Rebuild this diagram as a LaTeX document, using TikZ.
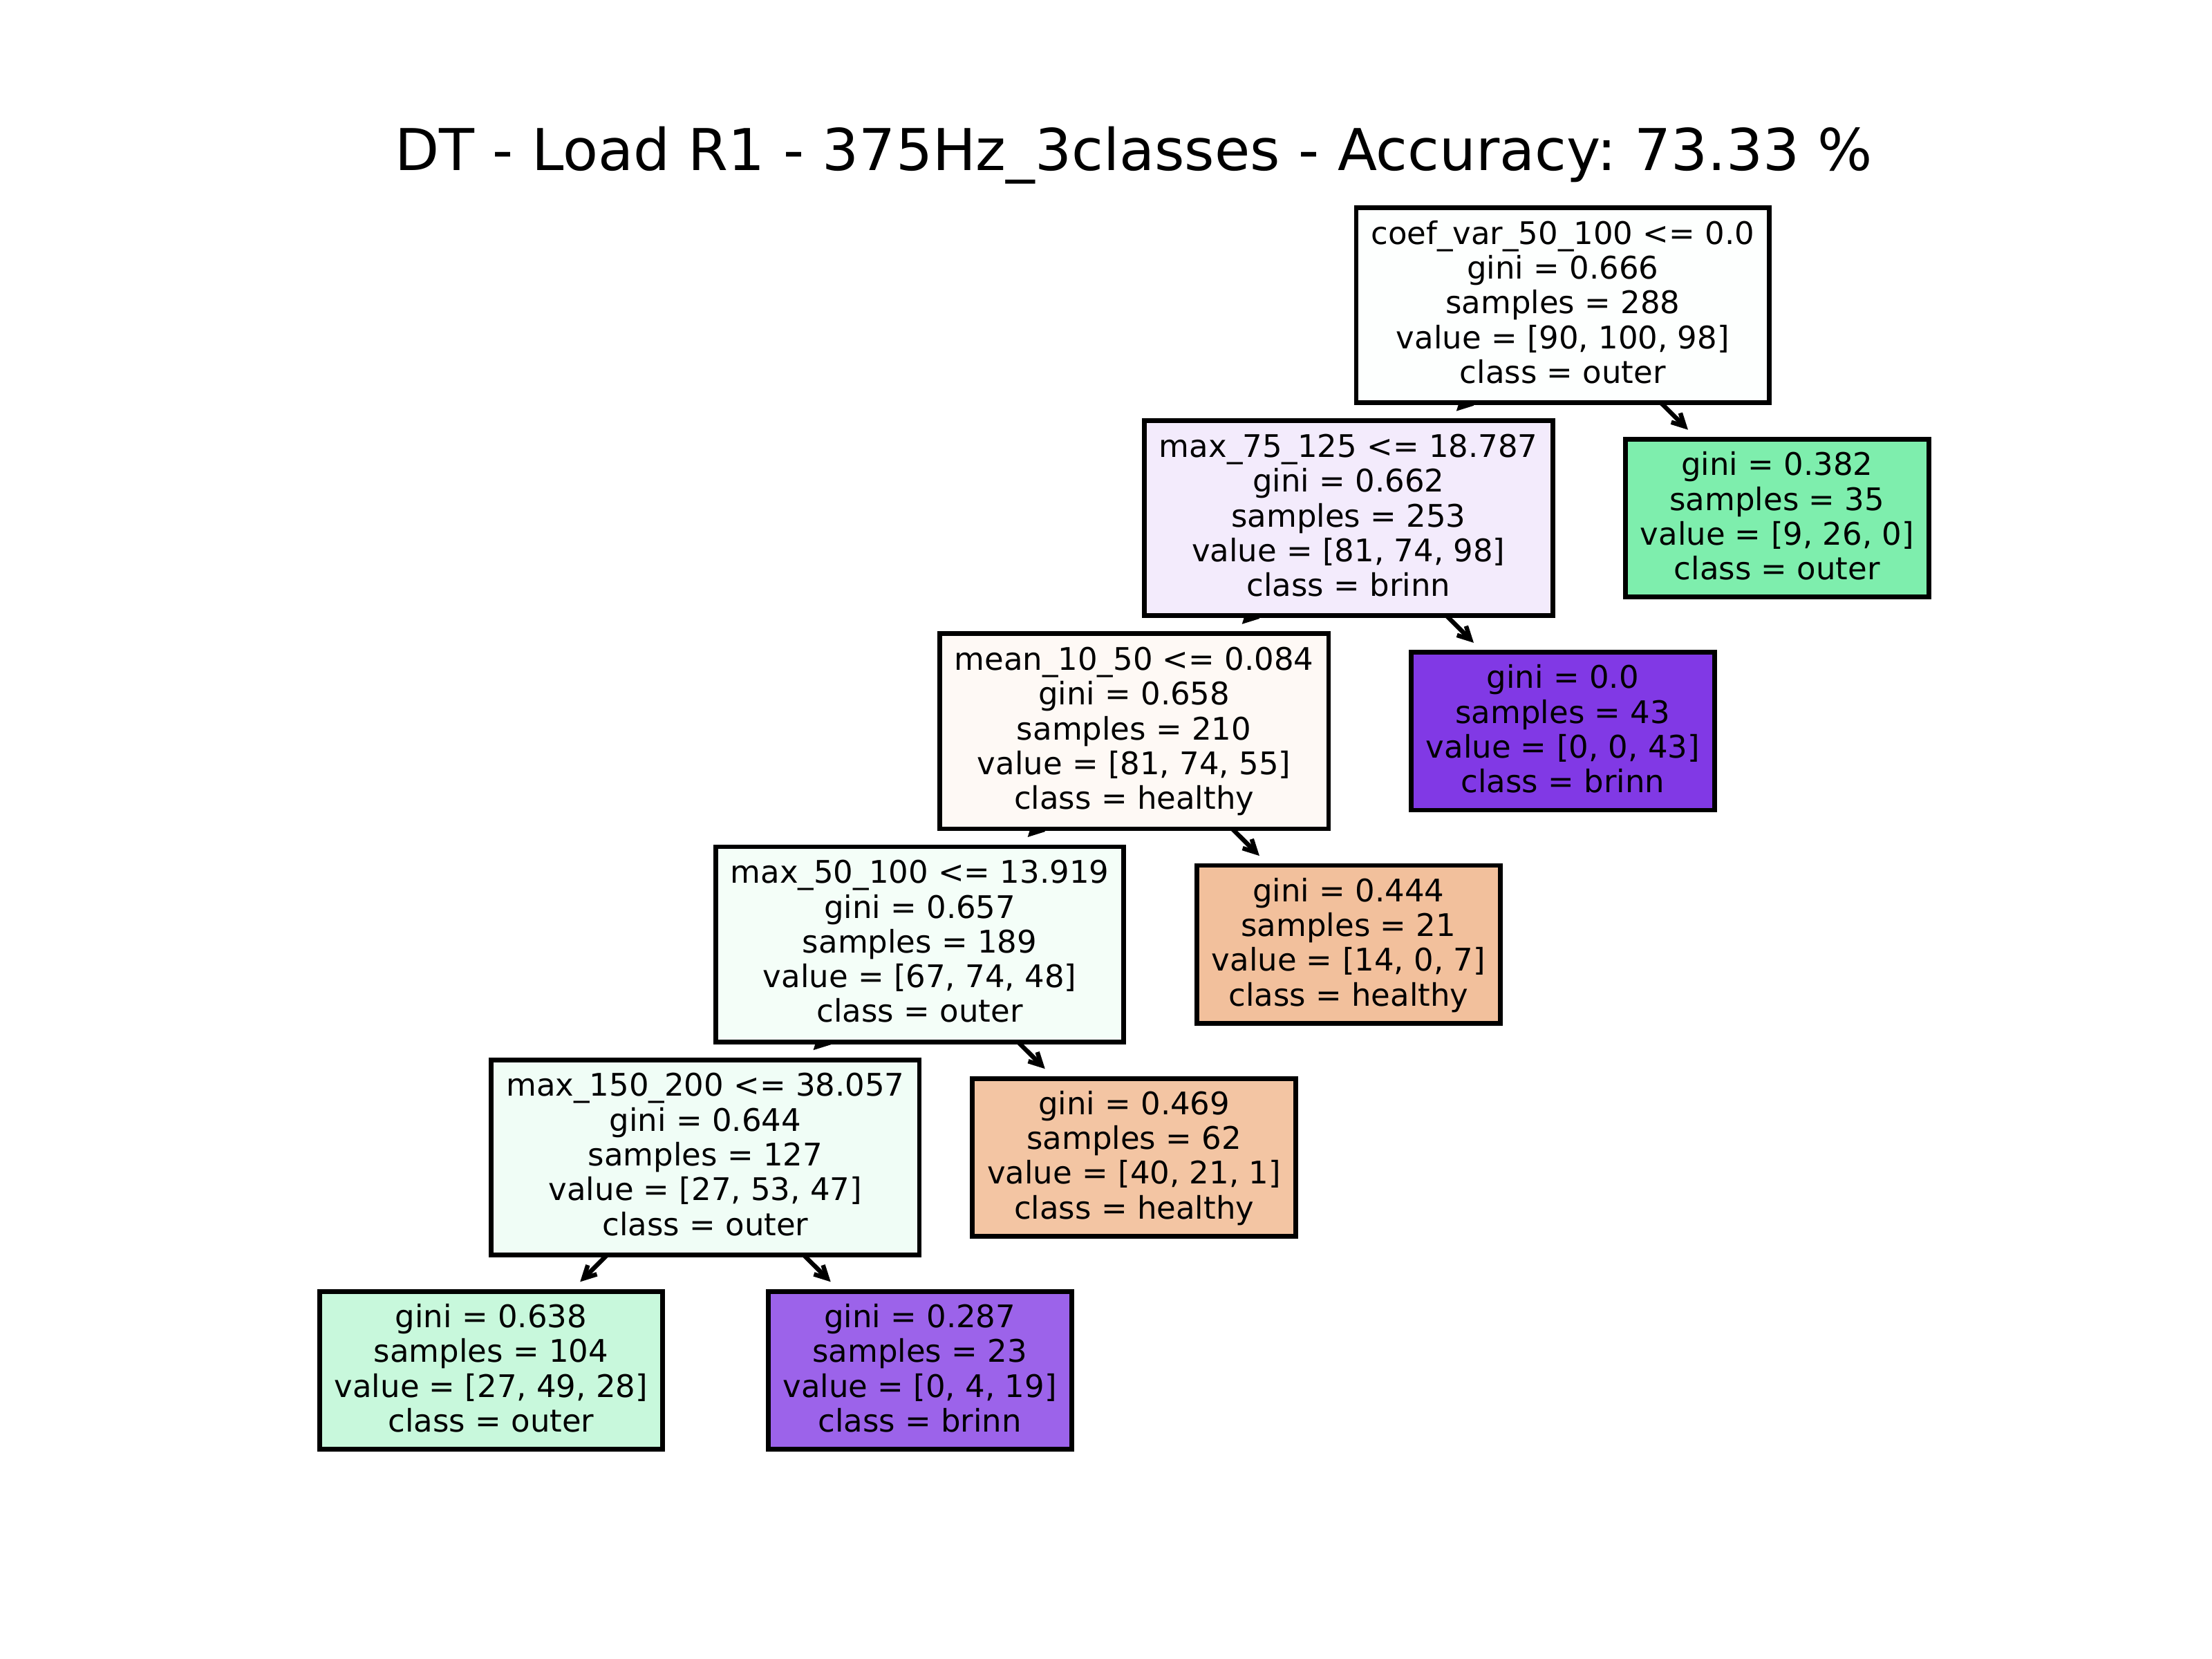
\documentclass[tikz,border=0pt]{standalone}
\usepackage{fontspec}
\setmainfont{DejaVu Sans}
\frenchspacing
\usetikzlibrary{arrows.meta,backgrounds}
\newcommand\nodefont{\fontsize{6.27pt}{7.01pt}\selectfont}
\newcommand\titlefont{\fontsize{11.62pt}{14pt}\selectfont}
\newcommand\tA{\rule{0pt}{0.175cm}}
\newcommand\tB{\rule[-0.055cm]{0pt}{0.055cm}}
\newcommand\lA{\rule{0pt}{0.18cm}}
\newcommand\lB{\rule[-0.048cm]{0pt}{0.048cm}}
\definecolor{cRoot}{RGB}{253,255,254}
\definecolor{cA}{RGB}{243,235,252}
\definecolor{cB}{RGB}{126,238,173}
\definecolor{cC}{RGB}{254,249,245}
\definecolor{cD}{RGB}{129,57,229}
\definecolor{cE}{RGB}{244,254,248}
\definecolor{cF}{RGB}{242,192,156}
\definecolor{cG}{RGB}{240,253,246}
\definecolor{cH}{RGB}{243,197,163}
\definecolor{cI}{RGB}{200,248,220}
\definecolor{cJ}{RGB}{156,99,234}
\tikzset{
  tbox/.style={draw=black, line width=0.95pt, rectangle, inner xsep=2.99pt, inner ysep=0pt, align=center, font=\nodefont},
  split/.style={tbox, minimum height=1.382cm},
  leaf/.style={tbox, minimum height=1.117cm},
  edge/.style={line width=0.9pt, -{Straight Barb[length=2.5pt,width=2.6pt]}, shorten >=2.1pt},
}
\begin{document}
\begin{tikzpicture}[x=0.01cm,y=-0.01cm]
\begin{pgfonlayer}{background}
\fill[white] (0,0) rectangle (1568,1176);
\end{pgfonlayer}
\useasboundingbox (0,0) rectangle (1568,1176);

\node[font=\titlefont, anchor=base, inner sep=0pt] (title) at (803.6,120.7) {DT - Load R1 - 375Hz\_3classes - Accuracy: 73.33 \%};

\node[split, fill=cRoot] (root) at (1107.8,216.4) {\tA coef\_var\_50\_100 <= 0.0\\gini = 0.666\\samples = 288\\value = [90, 100, 98]\\class = outer\tB};
\node[split, fill=cA] (n1) at (955.9,367.4) {\tA max\_75\_125 <= 18.787\\gini = 0.662\\samples = 253\\value = [81, 74, 98]\\class = brinn\tB};
\node[leaf, fill=cB] (l1) at (1259.7,367.4) {\lA gini = 0.382\\samples = 35\\value = [9, 26, 0]\\class = outer\lB};
\node[split, fill=cC] (n2) at (803.9,518.4) {\tA mean\_10\_50 <= 0.084\\gini = 0.658\\samples = 210\\value = [81, 74, 55]\\class = healthy\tB};
\node[leaf, fill=cD] (l2) at (1107.8,518.4) {\lA gini = 0.0\\samples = 43\\value = [0, 0, 43]\\class = brinn\lB};
\node[split, fill=cE] (n3) at (652.0,669.4) {\tA max\_50\_100 <= 13.919\\gini = 0.657\\samples = 189\\value = [67, 74, 48]\\class = outer\tB};
\node[leaf, fill=cF] (l3) at (955.9,669.4) {\lA gini = 0.444\\samples = 21\\value = [14, 0, 7]\\class = healthy\lB};
\node[split, fill=cG] (n4) at (500.0,820.4) {\tA max\_150\_200 <= 38.057\\gini = 0.644\\samples = 127\\value = [27, 53, 47]\\class = outer\tB};
\node[leaf, fill=cH] (l4) at (803.9,820.4) {\lA gini = 0.469\\samples = 62\\value = [40, 21, 1]\\class = healthy\lB};
\node[leaf, fill=cI] (l5) at (348.1,971.4) {\lA gini = 0.638\\samples = 104\\value = [27, 49, 28]\\class = outer\lB};
\node[leaf, fill=cJ] (l6) at (652.0,971.4) {\lA gini = 0.287\\samples = 23\\value = [0, 4, 19]\\class = brinn\lB};

\begin{pgfonlayer}{background}
\draw[edge] (root.center) -- (n1);
\draw[edge] (root.center) -- (l1);
\draw[edge] (n1.center) -- (n2);
\draw[edge] (n1.center) -- (l2);
\draw[edge] (n2.center) -- (n3);
\draw[edge] (n2.center) -- (l3);
\draw[edge] (n3.center) -- (n4);
\draw[edge] (n3.center) -- (l4);
\draw[edge] (n4.center) -- (l5);
\draw[edge] (n4.center) -- (l6);
\end{pgfonlayer}
\end{tikzpicture}
\end{document}
